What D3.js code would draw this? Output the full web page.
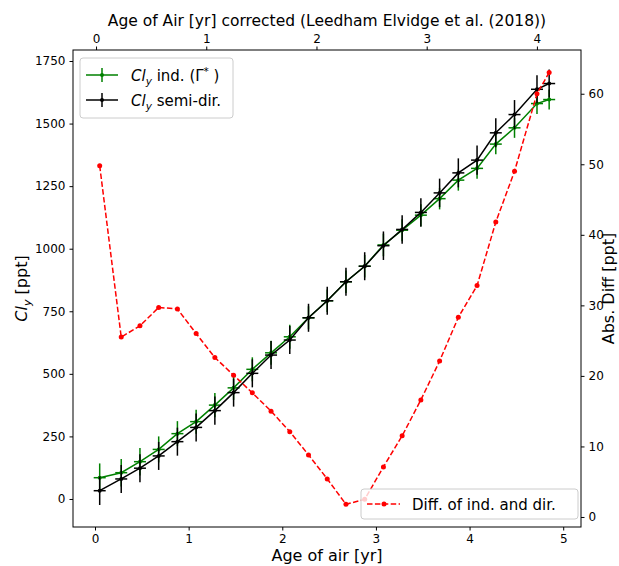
<!DOCTYPE html>
<html>
<head>
<meta charset="utf-8">
<script src="https://cdn.jsdelivr.net/npm/d3@7"></script>
<style>
  body { margin: 0; background: #fff; }
  text { font-family: "DejaVu Sans", sans-serif; fill: #000; }
</style>
</head>
<body>
<div id="chart"></div>
<script>
// data
const ageOfAir = [0.05, 0.28, 0.48, 0.68, 0.88, 1.08, 1.28, 1.48, 1.68, 1.88, 2.08, 2.28, 2.48,
                  2.68, 2.88, 3.08, 3.28, 3.48, 3.68, 3.88, 4.08, 4.28, 4.48, 4.72, 4.85];
const clyInd = [85, 105, 149, 198, 261, 309, 375, 444, 518, 584, 648, 724, 792,
                868, 930, 1015, 1074, 1134, 1200, 1274, 1321, 1418, 1483, 1580, 1596];
const clyIndErr = [57, 55, 55, 52, 50, 48, 48, 48, 48, 48, 48, 46, 45,
                   45, 45, 45, 44, 44, 43, 42, 41, 41, 40, 42, 40];
const clySemi = [33, 80, 123, 172, 229, 286, 353, 425, 502, 575, 635, 724, 792,
                 868, 930, 1012, 1077, 1145, 1223, 1303, 1354, 1463, 1536, 1637, 1660];
const clySemiErr = [57, 56, 56, 56, 56, 56, 56, 56, 56, 56, 56, 56, 56,
                    56, 56, 57, 57, 57, 57, 58, 58, 58, 58, 56, 56];
const absDiff = [49.8, 25.5, 27.1, 29.7, 29.5, 26.0, 22.6, 20.1, 17.6, 15.0, 12.1, 8.8, 5.4,
                 1.8, 2.5, 7.1, 11.5, 16.6, 22.1, 28.3, 32.8, 41.8, 49.0, 60.0, 63.0];

const bottomTicks = [0, 1, 2, 3, 4, 5];
const topTicks = [0, 1, 2, 3, 4];
const leftTicks = [0, 250, 500, 750, 1000, 1250, 1500, 1750];
const rightTicks = [0, 10, 20, 30, 40, 50, 60];

const width = 619, height = 566;
const mLeft = 73, mRight = 581, mTop = 50, mBottom = 527;

const x = d3.scaleLinear().domain([-0.235, 5.19]).range([mLeft, mRight]);
const xTop = d3.scaleLinear().domain([-0.209, 4.40]).range([mLeft, mRight]);
const y = d3.scaleLinear().domain([-112, 1794]).range([mBottom, mTop]);
const y2 = d3.scaleLinear().domain([-1.42, 66.2]).range([mBottom, mTop]);

const svg = d3.select("#chart").append("svg")
  .attr("width", width).attr("height", height);

const data = ageOfAir.map((a, i) => ({
  a: a, ind: clyInd[i], indErr: clyIndErr[i],
  semi: clySemi[i], semiErr: clySemiErr[i], diff: absDiff[i]
}));

function drawSeries(key, errKey, color) {
  let g = svg.append("g");
  let line = d3.line().x(d => x(d.a)).y(d => y(d[key]));
  g.append("path").datum(data)
    .attr("d", line).attr("fill", "none")
    .attr("stroke", color).attr("stroke-width", 1.5);
  g.selectAll(".err").data(data).enter().append("line")
    .attr("x1", d => x(d.a)).attr("x2", d => x(d.a))
    .attr("y1", d => y(d[key] - d[errKey])).attr("y2", d => y(d[key] + d[errKey]))
    .attr("stroke", color).attr("stroke-width", 1.5);
  g.selectAll(".mk").data(data).enter().append("line")
    .attr("x1", d => x(d.a) - 6).attr("x2", d => x(d.a) + 6)
    .attr("y1", d => y(d[key])).attr("y2", d => y(d[key]))
    .attr("stroke", color).attr("stroke-width", 1.5);
  g.selectAll(".dot").data(data).enter().append("circle")
    .attr("cx", d => x(d.a)).attr("cy", d => y(d[key])).attr("r", 2)
    .attr("fill", color);
}

drawSeries("ind", "indErr", "#008000");
drawSeries("semi", "semiErr", "#000000");

// diff on the twin axis
svg.append("path").datum(data)
  .attr("d", d3.line().x(d => x(d.a)).y(d => y2(d.diff)))
  .attr("fill", "none").attr("stroke", "#ff0000").attr("stroke-width", 1.5)
  .attr("stroke-dasharray", "5.5,2.4");
svg.append("g").selectAll("circle").data(data).enter().append("circle")
  .attr("cx", d => x(d.a)).attr("cy", d => y2(d.diff)).attr("r", 2.5)
  .attr("fill", "#ff0000");

// frame
svg.append("rect")
  .attr("x", mLeft).attr("y", mTop)
  .attr("width", mRight - mLeft).attr("height", mBottom - mTop)
  .attr("fill", "none").attr("stroke", "#000").attr("stroke-width", 1);

function styleAxis(g) {
  g.select(".domain").remove();
  g.selectAll(".tick line").attr("stroke", "#000");
  g.selectAll(".tick text").attr("font-size", "12px").attr("font-family", "DejaVu Sans");
}

const fmt = d3.format("d");
svg.append("g").attr("transform", `translate(0,${mBottom})`)
  .call(d3.axisBottom(x).tickValues(bottomTicks).tickFormat(fmt).tickSize(3.5).tickPadding(4))
  .call(styleAxis);
svg.append("g").attr("transform", `translate(0,${mTop})`)
  .call(d3.axisTop(xTop).tickValues(topTicks).tickFormat(fmt).tickSize(3.5).tickPadding(4))
  .call(styleAxis);
svg.append("g").attr("transform", `translate(${mLeft},0)`)
  .call(d3.axisLeft(y).tickValues(leftTicks).tickFormat(fmt).tickSize(3.5).tickPadding(4))
  .call(styleAxis);
svg.append("g").attr("transform", `translate(${mRight},0)`)
  .call(d3.axisRight(y2).tickValues(rightTicks).tickFormat(fmt).tickSize(3.5).tickPadding(4))
  .call(styleAxis);

// axis labels
svg.append("text").attr("x", (mLeft + mRight) / 2).attr("y", 561)
  .attr("text-anchor", "middle").attr("font-size", "16px").text("Age of air [yr]");
svg.append("text").attr("x", (mLeft + mRight) / 2).attr("y", 26)
  .attr("text-anchor", "middle").attr("font-size", "15.5px")
  .text("Age of Air [yr] corrected (Leedham Elvidge et al. (2018))");
svg.append("text").attr("transform", `translate(614,${(mTop + mBottom) / 2}) rotate(-90)`)
  .attr("text-anchor", "middle").attr("font-size", "16px").text("Abs. Diff [ppt]");

let yl = svg.append("text").attr("transform", `translate(27,${(mTop + mBottom) / 2}) rotate(-90)`)
  .attr("text-anchor", "middle").attr("font-size", "16px");
yl.append("tspan").attr("font-style", "italic").text("Cl");
yl.append("tspan").attr("font-style", "italic").attr("font-size", "11px").attr("dy", 4).text("y");
yl.append("tspan").attr("dy", -4).text(" [ppt]");

// legend for the Cly series
let lg = svg.append("g");
lg.append("rect").attr("x", 80).attr("y", 58).attr("width", 153).attr("height", 60)
  .attr("rx", 3).attr("fill", "#fff").attr("fill-opacity", 0.8)
  .attr("stroke", "#cccccc").attr("stroke-width", 1);
const legendItems = [
  { color: "#008000", text: " ind. (", yy: 75 },
  { color: "#000000", text: " semi-dir.", yy: 100 }
];
legendItems.forEach((it, i) => {
  lg.append("line").attr("x1", 86).attr("x2", 118).attr("y1", it.yy).attr("y2", it.yy)
    .attr("stroke", it.color).attr("stroke-width", 1.5);
  lg.append("line").attr("x1", 102).attr("x2", 102).attr("y1", it.yy - 7).attr("y2", it.yy + 7)
    .attr("stroke", it.color).attr("stroke-width", 1.5);
  lg.append("circle").attr("cx", 102).attr("cy", it.yy).attr("r", 2).attr("fill", it.color);
  let t = lg.append("text").attr("x", 131).attr("y", it.yy + 5.5).attr("font-size", "15px");
  t.append("tspan").attr("font-style", "italic").text("Cl");
  t.append("tspan").attr("font-style", "italic").attr("font-size", "10.5px").attr("dy", 4).text("y");
  t.append("tspan").attr("dy", -4).text(it.text);
  if (i === 0) {
    t.append("tspan").text("\u0393");
    t.append("tspan").attr("font-size", "10.5px").attr("dy", -6).text("*");
    t.append("tspan").attr("dy", 6).text(" )");
  }
});

// legend for the diff series
let lg2 = svg.append("g");
lg2.append("rect").attr("x", 361).attr("y", 489).attr("width", 217).attr("height", 30)
  .attr("rx", 3).attr("fill", "#fff").attr("fill-opacity", 0.8)
  .attr("stroke", "#cccccc").attr("stroke-width", 1);
lg2.append("line").attr("x1", 367).attr("x2", 400).attr("y1", 504).attr("y2", 504)
  .attr("stroke", "#ff0000").attr("stroke-width", 1.5).attr("stroke-dasharray", "5.5,2.4");
lg2.append("circle").attr("cx", 384).attr("cy", 504).attr("r", 2.5).attr("fill", "#ff0000");
lg2.append("text").attr("x", 412).attr("y", 509.5).attr("font-size", "15px")
  .text("Diff. of ind. and dir.");
</script>
</body>
</html>
